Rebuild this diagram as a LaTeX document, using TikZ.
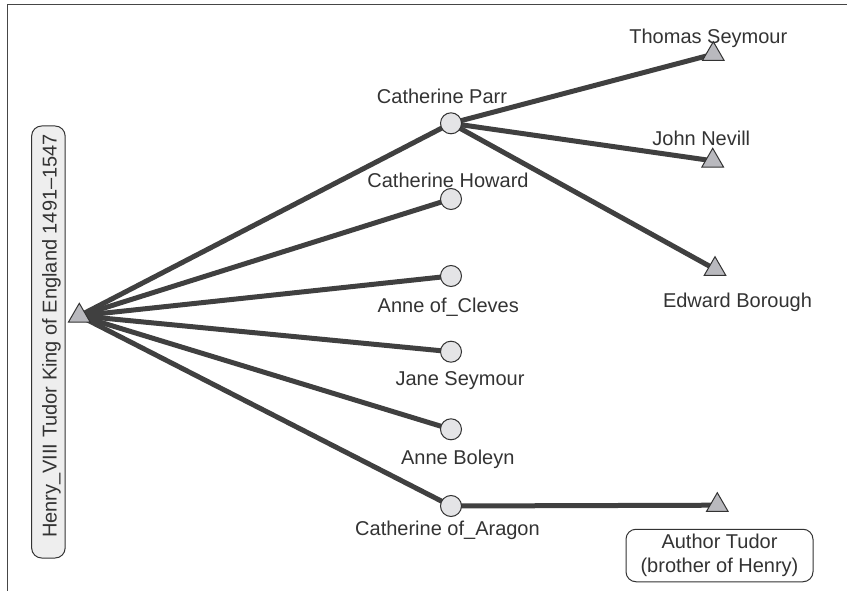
\documentclass[tikz,border=0pt]{standalone}
\usepackage{fontspec}
\setmainfont{Liberation Sans}
\usetikzlibrary{shapes.geometric,backgrounds}
\definecolor{txt}{RGB}{51,51,51}
\definecolor{edgec}{RGB}{64,64,64}
\definecolor{framec}{RGB}{70,70,70}
\definecolor{circfill}{RGB}{228,228,230}
\definecolor{trifill}{RGB}{185,185,190}
\definecolor{boxfill}{RGB}{238,238,238}
\begin{document}
\begin{tikzpicture}[x=1pt,y=-1pt,
  font=\fontsize{20}{23.5}\selectfont, text=txt,
  female/.style={circle, draw=txt, line width=1pt, fill=circfill, minimum size=21pt, inner sep=0pt},
  male/.style={regular polygon, regular polygon sides=3, draw=txt, line width=1pt, fill=trifill, minimum size=25pt, inner sep=0pt},
  tie/.style={draw=edgec, line width=5pt},
  lbl/.style={inner sep=0pt, anchor=base},
  namebox/.style={draw=txt, line width=1pt, rounded corners=10pt, inner sep=0pt}]
\useasboundingbox (0,0) rectangle (847,591);
\draw[framec, line width=1.2pt] (7.3,591) -- (7.3,4.5) -- (847,4.5);

% Henry
\node[namebox, fill=boxfill, minimum width=33.5pt, minimum height=432pt] (henrybox) at (48.4,342) {};
\node[lbl, rotate=90] (henrytext) at (56.7,336) {Henry\_VIII Tudor King of England 1491--1547};
\node[male] (henry) at (79.3,315.8) {};

% wives
\node[female] (parr) at (451,123.3) {};
\node[female] (howard) at (451,199) {};
\node[female] (cleves) at (451,276) {};
\node[female] (jane) at (451,351.7) {};
\node[female] (boleyn) at (451,429.3) {};
\node[female] (aragon) at (451,506) {};

% other men
\node[male] (thomas) at (713.3,54.2) {};
\node[male] (nevill) at (712.7,160.8) {};
\node[male] (borough) at (715,269.2) {};
\node[male] (arthur) at (717.3,505.2) {};

% labels
\node[lbl] (lparr) at (442,103.3) {Catherine Parr};
\node[lbl] (lhoward) at (448,187.3) {Catherine Howard};
\node[lbl] (lcleves) at (448.3,312) {Anne of\_Cleves};
\node[lbl] (ljane) at (460,385) {Jane Seymour};
\node[lbl] (lboleyn) at (457.8,464) {Anne Boleyn};
\node[lbl] (laragon) at (447.5,535) {Catherine of\_Aragon};
\node[lbl] (lthomas) at (708.3,44) {Thomas Seymour};
\node[lbl] (lnevill) at (701.3,145.3) {John Nevill};
\node[lbl] (lborough) at (737.5,307) {Edward Borough};
\node[namebox, fill=white, minimum width=187pt, minimum height=52.5pt, align=center] (larthur) at (719.5,555.5) {Author Tudor\\(brother of Henry)};

\begin{scope}[on background layer]
\draw[tie] (henry.center) -- (parr.center);
\draw[tie] (henry.center) -- (howard.center);
\draw[tie] (henry.center) -- (cleves.center);
\draw[tie] (henry.center) -- (jane.center);
\draw[tie] (henry.center) -- (boleyn.center);
\draw[tie] (henry.center) -- (aragon.center);
\draw[tie] (parr.center) -- (thomas.center);
\draw[tie] (parr.center) -- (nevill.center);
\draw[tie] (parr.center) -- (borough.center);
\draw[tie] (aragon.center) -- (arthur.center);
\end{scope}
\end{tikzpicture}
\end{document}
